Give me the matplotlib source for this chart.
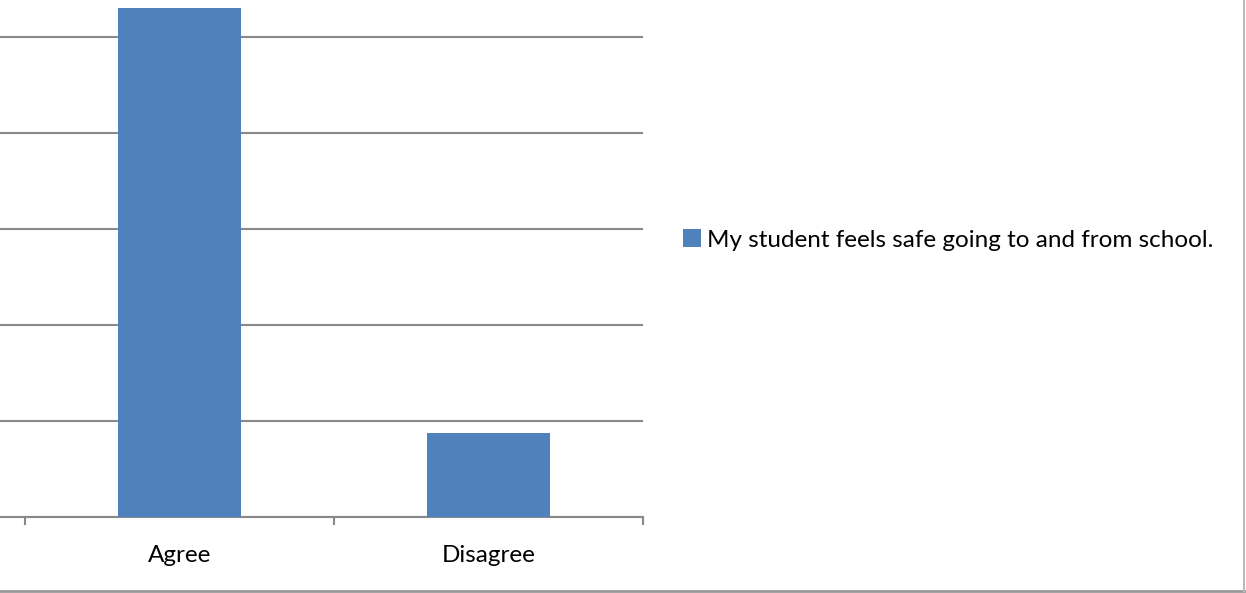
import matplotlib
matplotlib.use("Agg")
import matplotlib.pyplot as plt
from matplotlib.lines import Line2D

categories = ["Agree", "Disagree"]
values = [106, 17.5]
series_name = "My student feels safe going to and from school."

bar_color = "#4F81BD"
grid_color = "#888888"

plt.rcParams['font.family'] = ['Lato', 'DejaVu Sans']

fig = plt.figure(figsize=(12.46, 5.93), dpi=100)
ax = fig.add_axes([25 / 1246, 76 / 593, 618 / 1246, 517 / 593])

x = [0.5, 1.5]
ax.bar(x, values, width=0.4, color=bar_color, label=series_name, zorder=3)
ax.set_xlim(0, 2)
ax.set_ylim(0, 517 / 96 * 20)
ax.set_yticks([0, 20, 40, 60, 80, 100])
ax.set_yticklabels([])
ax.grid(axis="y", color=grid_color, linewidth=1.5, zorder=0)
ax.tick_params(axis="y", length=18, width=1.5, color=grid_color, direction="out")

ax.set_xticks([0, 1, 2])
ax.set_xticklabels([])
ax.set_xticks(x, minor=True)
ax.set_xticklabels(categories, minor=True, fontsize=17.5)
ax.tick_params(axis="x", which="major", length=6, width=1.5, color=grid_color)
ax.tick_params(axis="x", which="minor", length=0, pad=20)

for s in ["top", "right", "left"]:
    ax.spines[s].set_visible(False)
ax.spines["bottom"].set_color(grid_color)
ax.spines["bottom"].set_linewidth(1.5)

ax.legend(loc="center left", bbox_to_anchor=(683 / 1246, 1 - 240 / 593),
          bbox_transform=fig.transFigure, frameon=False, fontsize=17.5,
          handlelength=0.75, handleheight=0.75, handletextpad=0.25,
          borderpad=0, borderaxespad=0)

# outer chart border (right and bottom visible)
fig.add_artist(Line2D([0, 1244 / 1246], [2 / 593, 2 / 593], color="#999999", linewidth=2,
                      transform=fig.transFigure))
fig.add_artist(Line2D([1244 / 1246, 1244 / 1246], [2 / 593, 1], color="#bbbbbb", linewidth=1.5,
                      transform=fig.transFigure))

fig.savefig("out.png", dpi=100)
